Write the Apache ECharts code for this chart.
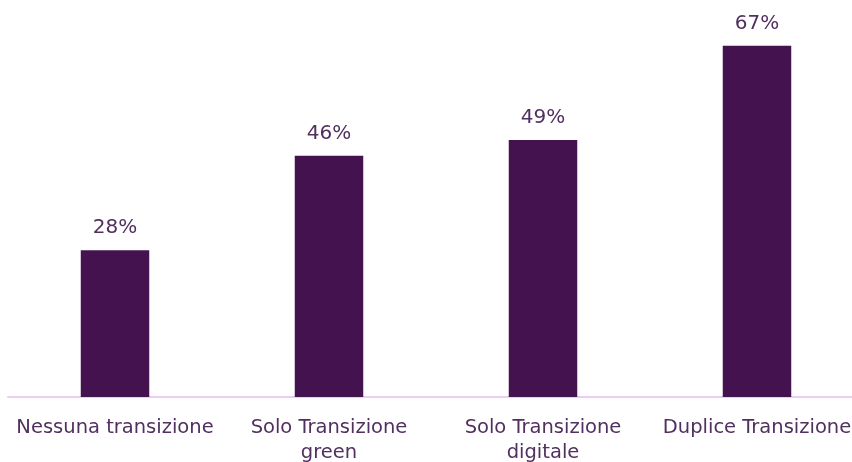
<!DOCTYPE html>
<html>
<head>
<meta charset="utf-8">
<script src="https://cdn.jsdelivr.net/npm/echarts@6/dist/echarts.min.js"></script>
<style>
  html, body { margin: 0; padding: 0; background: #fff; }
  #chart { width: 852px; height: 462px; }
</style>
</head>
<body>
<div id="chart"></div>
<script>
  // categorie e valori (%)
  var categories = [
    "Nessuna transizione",
    "Solo Transizione\ngreen",
    "Solo Transizione\ndigitale",
    "Duplice Transizione"
  ];
  var values = [28, 46, 49, 67];

  var myChart = echarts.init(document.getElementById("chart"));

  var option = {
    animation: false,
    grid: {
      left: 8,
      width: 856,
      top: 30,
      bottom: 65,
      outerBoundsMode: "none",
      containLabel: false
    },
    xAxis: {
      type: "category",
      data: categories,
      axisLine: {
        lineStyle: { color: "#ebcdf3", width: 2 }
      },
      axisTick: { show: false },
      axisLabel: {
        color: "#51305f",
        fontFamily: "DejaVu Sans",
        fontSize: 19.5,
        lineHeight: 25,
        margin: 18,
        interval: 0,
        hideOverlap: false
      }
    },
    yAxis: {
      type: "value",
      min: 0,
      max: 70,
      show: false,
      splitLine: { show: false }
    },
    series: [
      {
        type: "bar",
        data: values,
        barWidth: "32%",
        itemStyle: { color: "#43124f" },
        label: {
          show: true,
          position: "top",
          distance: 12,
          color: "#51305f",
          fontFamily: "DejaVu Sans",
          fontSize: 20,
          formatter: "{c}%"
        }
      }
    ]
  };

  myChart.setOption(option);
</script>
</body>
</html>
